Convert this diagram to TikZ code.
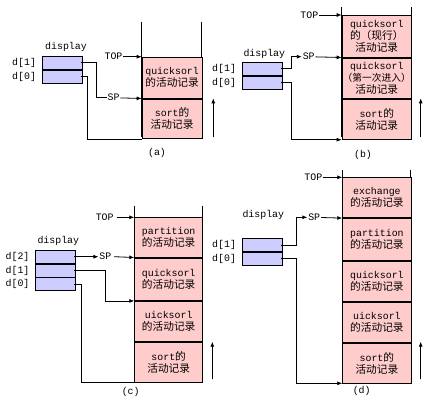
\documentclass[tikz,border=0pt]{standalone}
\usepackage{fontspec}
\setmainfont{Liberation Mono}
\newfontfamily\cjk{Noto Sans CJK SC}[Scale=1.08]
\usetikzlibrary{positioning,arrows.meta}
\definecolor{recpink}{RGB}{255,204,204}
\definecolor{disblue}{RGB}{204,204,255}
\tikzset{
  rec/.style={draw, fill=recpink, inner sep=0pt, align=center, anchor=north west},
  dslot/.style={draw, fill=disblue, minimum width=40pt, minimum height=13pt, inner sep=0pt},
  ptr/.style={-{Latex[length=5pt,width=4pt]}},
  lbl/.style={inner sep=0.5pt}
}

\begin{document}
\begin{tikzpicture}[x=1pt,y=-1pt,line width=0.8pt,font=\fontsize{9.9}{12}\selectfont]
\useasboundingbox (0,0) rectangle (430,407);
% (a)
\draw (141.7,22) -- (141.7,137.3);
\draw (201.7,22) -- (201.7,137.3);
\node[rec, minimum width=60pt, minimum height=41pt] (ra1) at (141.7,56.7) {quicksorl\\{\cjk 的活动记录}};
\node[rec, minimum width=60pt, minimum height=39.6pt, below=0pt of ra1] (ra0) {sort{\cjk 的}\\{\cjk 活动记录}};
\node[dslot] (da1) at (62.3,62.7) {};
\node[dslot, below=0pt of da1] (da0) {};
\node[lbl, left=5pt of da1] (la1) {d[1]};
\node[lbl, left=5pt of da0] (la0) {d[0]};
\node (dispa) at (66,47) {display};
\node[lbl] (topa) at (113.5,56.7) {TOP};
\node[lbl] (spa) at (113.5,97.7) {SP};
\draw[ptr] (topa) -- (ra1.north west);
\draw[ptr] (spa) -- (ra0.north west);
\coordinate (ka) at (96.7,0);
\coordinate (kb) at (87.3,0);
\draw ([xshift=-2pt]da1.east) -| (ka |- spa) -- (spa);
\draw ([xshift=-2pt]da0.east) -| (kb |- ra0.south west) -- (ra0.south west);
\coordinate (ua) at (213.3,137.3);
\draw[ptr] (ua) -- ++(0,-39);
\node (capa) at (157,153) {(a)};
% (b)
\draw (341.7,7) -- (341.7,137.3);
\draw (411,7) -- (411,137.3);
\node[rec, minimum width=69.3pt, minimum height=41.7pt] (rb2) at (341.7,15) {quicksorl\\{\cjk 的（现行）}\\{\cjk 活动记录}};
\node[rec, minimum width=69.3pt, minimum height=40.6pt, below=0pt of rb2] (rb1) {quicksorl\\{\cjk\fontsize{9}{12}\selectfont （第一次进入）}\\{\cjk 活动记录}};
\node[rec, minimum width=69.3pt, minimum height=40pt, below=0pt of rb1] (rb0) {sort{\cjk 的}\\{\cjk 活动记录}};
\node[dslot] (db1) at (262.3,68.8) {};
\node[dslot, below=0pt of db1] (db0) {};
\node[lbl, left=5pt of db1] (lb1) {d[1]};
\node[lbl, left=5pt of db0] (lb0) {d[0]};
\node (dispb) at (264.3,54) {display};
\node[lbl] (topb) at (309.3,15) {TOP};
\node[lbl] (spb) at (308.7,56.7) {SP};
\draw[ptr] (topb) -- (rb2.north west);
\draw[ptr] (spb) -- (rb1.north west);
\coordinate (kc) at (291.7,0);
\draw[ptr] ([xshift=-2pt]db1.east) -| (kc |- spb) -- (spb);
\draw[ptr] ([xshift=-2pt]db0.east) -| (kc |- rb0.south west) -- (rb0.south west);
\coordinate (ub) at (420.7,137.3);
\draw[ptr] (ub) -- ++(0,-39);
\node (capb) at (363,155) {(b)};
% (c)
\draw (134.3,206) -- (134.3,381);
\draw (202.3,206) -- (202.3,381);
\node[rec, minimum width=68pt, minimum height=39.4pt] (rc3) at (134.3,217.3) {partition\\{\cjk 的活动记录}};
\node[rec, minimum width=68pt, minimum height=42.6pt, below=0pt of rc3] (rc2) {quicksorl\\{\cjk 的活动记录}};
\node[rec, minimum width=68pt, minimum height=40pt, below=0pt of rc2] (rc1) {uicksorl\\{\cjk 的活动记录}};
\node[rec, minimum width=68pt, minimum height=40pt, below=0pt of rc1] (rc0) {sort{\cjk 的}\\{\cjk 活动记录}};
\node[dslot] (dc2) at (55.7,256.7) {};
\node[dslot, below=0pt of dc2] (dc1) {};
\node[dslot, below=0pt of dc1] (dc0) {};
\node[lbl, left=5pt of dc2] (lc2) {d[2]};
\node[lbl, left=5pt of dc1] (lc1) {d[1]};
\node[lbl, left=5pt of dc0] (lc0) {d[0]};
\node (dispc) at (58.3,240.7) {display};
\node[lbl] (topc) at (104.7,217.3) {TOP};
\node[lbl] (spc) at (105.3,256.7) {SP};
\draw[ptr] ([xshift=2pt]topc.east) -- (rc3.north west);
\draw[ptr] ([xshift=2pt]spc.east) -- (rc2.north west);
\draw[ptr] ([xshift=-2pt]dc2.east) -- (spc);
\coordinate (kd) at (105.7,0);
\coordinate (ke) at (81.7,0);
\draw[ptr] ([xshift=-2pt]dc1.east) -| (kd |- rc1.north west) -- (rc1.north west);
\draw ([xshift=-2pt]dc0.east) -| (ke |- rc0.south west) -- (rc0.south west);
\coordinate (uc) at (212.3,379.3);
\draw[ptr] (uc) -- ++(0,-37.6);
\node (capc) at (130.7,391.7) {(c)};
% (d)
\draw (342.3,170) -- (342.3,379.3);
\draw (410.7,170) -- (410.7,379.3);
\node[rec, minimum width=68.4pt, minimum height=40pt] (rd4) at (342.3,177.3) {exchange\\{\cjk 的活动记录}};
\node[rec, minimum width=68.4pt, minimum height=42pt, below=0pt of rd4] (rd3) {partition\\{\cjk 的活动记录}};
\node[rec, minimum width=68.4pt, minimum height=40pt, below=0pt of rd3] (rd2) {quicksorl\\{\cjk 的活动记录}};
\node[rec, minimum width=68.4pt, minimum height=40.7pt, below=0pt of rd2] (rd1) {uicksorl\\{\cjk 的活动记录}};
\node[rec, minimum width=68.4pt, minimum height=39.3pt, below=0pt of rd1] (rd0) {sort{\cjk 的}\\{\cjk 活动记录}};
\node[dslot] (dd1) at (262.3,245) {};
\node[dslot, below=0pt of dd1] (dd0) {};
\node[lbl, left=5pt of dd1] (ld1) {d[1]};
\node[lbl, left=5pt of dd0] (ld0) {d[0]};
\node (dispd) at (263.3,215) {display};
\node[lbl] (topd) at (313.3,177.3) {TOP};
\node[lbl] (spd) at (314.2,217.3) {SP};
\draw[ptr] (topd) -- (rd4.north west);
\draw[ptr] (spd) -- (rd3.north west);
\coordinate (kf) at (296.7,0);
\draw[ptr] ([xshift=-2pt]dd1.east) -| (kf |- spd) -- (spd);
\draw[ptr] ([xshift=-2pt]dd0.east) -| (kf |- rd0.south west) -- (rd0.south west);
\coordinate (ud) at (420.7,379.3);
\draw[ptr] (ud) -- ++(0,-37.6);
\node (capd) at (361.7,390.7) {(d)};
\end{tikzpicture}
\end{document}
